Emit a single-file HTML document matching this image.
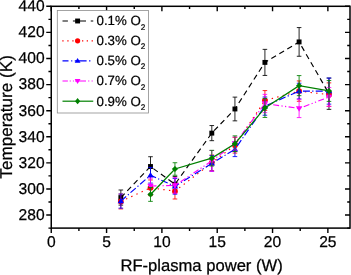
<!DOCTYPE html>
<html><head><meta charset="utf-8"><title>chart</title>
<style>html,body{margin:0;padding:0;background:#fff;}body{width:351px;height:275px;overflow:hidden;font-family:"Liberation Sans",sans-serif;}</style>
</head><body>
<svg width="351" height="275" viewBox="0 0 351 275" style="display:block;opacity:0.999;will-change:transform">
<rect width="351" height="275" fill="#fff"/>
<path d="M120.85 197.57 L150.50 166.52 L174.95 184.26 L211.80 133.12 L234.93 108.98 L264.91 62.40 L299.10 41.92 L328.98 93.72" fill="none" stroke="#000000" stroke-width="1.15" stroke-dasharray="5.5 3.8"/>
<path d="M120.85 190.00V205.14M118.55 190.00H123.15M118.55 205.14H123.15" fill="none" stroke="#000000" stroke-width="0.85"/>
<path d="M150.50 156.73V176.30M148.20 156.73H152.80M148.20 176.30H152.80" fill="none" stroke="#000000" stroke-width="0.85"/>
<path d="M174.95 176.43V192.09M172.65 176.43H177.25M172.65 192.09H177.25" fill="none" stroke="#000000" stroke-width="0.85"/>
<path d="M211.80 125.55V140.68M209.50 125.55H214.10M209.50 140.68H214.10" fill="none" stroke="#000000" stroke-width="0.85"/>
<path d="M234.93 97.11V120.85M232.63 97.11H237.23M232.63 120.85H237.23" fill="none" stroke="#000000" stroke-width="0.85"/>
<path d="M264.91 49.36V75.45M262.61 49.36H267.21M262.61 75.45H267.21" fill="none" stroke="#000000" stroke-width="0.85"/>
<path d="M299.10 27.57V56.27M296.80 27.57H301.40M296.80 56.27H301.40" fill="none" stroke="#000000" stroke-width="0.85"/>
<path d="M328.98 78.06V109.37M326.68 78.06H331.28M326.68 109.37H331.28" fill="none" stroke="#000000" stroke-width="0.85"/>
<rect x="118.40" y="195.12" width="4.90" height="4.90" fill="#000000"/>
<rect x="148.05" y="164.07" width="4.90" height="4.90" fill="#000000"/>
<rect x="172.50" y="181.81" width="4.90" height="4.90" fill="#000000"/>
<rect x="209.35" y="130.67" width="4.90" height="4.90" fill="#000000"/>
<rect x="232.48" y="106.53" width="4.90" height="4.90" fill="#000000"/>
<rect x="262.46" y="59.95" width="4.90" height="4.90" fill="#000000"/>
<rect x="296.65" y="39.47" width="4.90" height="4.90" fill="#000000"/>
<rect x="326.53" y="91.27" width="4.90" height="4.90" fill="#000000"/>
<path d="M120.85 201.48 L150.50 187.78 L174.95 191.18 L211.80 162.86 L234.93 145.25 L264.91 100.50 L299.10 91.11 L328.98 94.63" fill="none" stroke="#ff0000" stroke-width="1.15" stroke-dasharray="1.4 4.3"/>
<path d="M120.85 194.05V208.92M118.55 194.05H123.15M118.55 208.92H123.15" fill="none" stroke="#ff0000" stroke-width="0.85"/>
<path d="M150.50 179.96V195.61M148.20 179.96H152.80M148.20 195.61H152.80" fill="none" stroke="#ff0000" stroke-width="0.85"/>
<path d="M174.95 183.35V199.01M172.65 183.35H177.25M172.65 199.01H177.25" fill="none" stroke="#ff0000" stroke-width="0.85"/>
<path d="M211.80 155.04V170.69M209.50 155.04H214.10M209.50 170.69H214.10" fill="none" stroke="#ff0000" stroke-width="0.85"/>
<path d="M234.93 137.42V153.08M232.63 137.42H237.23M232.63 153.08H237.23" fill="none" stroke="#ff0000" stroke-width="0.85"/>
<path d="M264.91 90.58V110.42M262.61 90.58H267.21M262.61 110.42H267.21" fill="none" stroke="#ff0000" stroke-width="0.85"/>
<path d="M299.10 80.93V101.28M296.80 80.93H301.40M296.80 101.28H301.40" fill="none" stroke="#ff0000" stroke-width="0.85"/>
<path d="M328.98 82.89V106.37M326.68 82.89H331.28M326.68 106.37H331.28" fill="none" stroke="#ff0000" stroke-width="0.85"/>
<circle cx="120.85" cy="201.48" r="2.86" fill="#ff0000"/>
<circle cx="150.50" cy="187.78" r="2.86" fill="#ff0000"/>
<circle cx="174.95" cy="191.18" r="2.86" fill="#ff0000"/>
<circle cx="211.80" cy="162.86" r="2.86" fill="#ff0000"/>
<circle cx="234.93" cy="145.25" r="2.86" fill="#ff0000"/>
<circle cx="264.91" cy="100.50" r="2.86" fill="#ff0000"/>
<circle cx="299.10" cy="91.11" r="2.86" fill="#ff0000"/>
<circle cx="328.98" cy="94.63" r="2.86" fill="#ff0000"/>
<path d="M120.85 201.09 L150.50 175.26 L174.95 186.35 L211.80 163.39 L234.93 149.30 L264.91 106.11 L299.10 91.11 L328.98 91.11" fill="none" stroke="#0000ff" stroke-width="1.15" stroke-dasharray="7 2.3 1.2 2.3"/>
<path d="M120.85 194.05V208.14M118.55 194.05H123.15M118.55 208.14H123.15" fill="none" stroke="#0000ff" stroke-width="0.85"/>
<path d="M150.50 167.43V183.09M148.20 167.43H152.80M148.20 183.09H152.80" fill="none" stroke="#0000ff" stroke-width="0.85"/>
<path d="M174.95 178.52V194.18M172.65 178.52H177.25M172.65 194.18H177.25" fill="none" stroke="#0000ff" stroke-width="0.85"/>
<path d="M211.80 155.56V171.21M209.50 155.56H214.10M209.50 171.21H214.10" fill="none" stroke="#0000ff" stroke-width="0.85"/>
<path d="M234.93 141.99V156.60M232.63 141.99H237.23M232.63 156.60H237.23" fill="none" stroke="#0000ff" stroke-width="0.85"/>
<path d="M264.91 96.98V115.24M262.61 96.98H267.21M262.61 115.24H267.21" fill="none" stroke="#0000ff" stroke-width="0.85"/>
<path d="M299.10 83.28V98.93M296.80 83.28H301.40M296.80 98.93H301.40" fill="none" stroke="#0000ff" stroke-width="0.85"/>
<path d="M328.98 78.06V104.15M326.68 78.06H331.28M326.68 104.15H331.28" fill="none" stroke="#0000ff" stroke-width="0.85"/>
<path d="M120.85 197.90 L124.04 203.29 L117.66 203.29Z" fill="#0000ff"/>
<path d="M150.50 172.07 L153.69 177.46 L147.31 177.46Z" fill="#0000ff"/>
<path d="M174.95 183.16 L178.14 188.55 L171.76 188.55Z" fill="#0000ff"/>
<path d="M211.80 160.20 L214.99 165.59 L208.61 165.59Z" fill="#0000ff"/>
<path d="M234.93 146.11 L238.12 151.50 L231.74 151.50Z" fill="#0000ff"/>
<path d="M264.91 102.92 L268.10 108.31 L261.72 108.31Z" fill="#0000ff"/>
<path d="M299.10 87.92 L302.29 93.31 L295.91 93.31Z" fill="#0000ff"/>
<path d="M328.98 87.92 L332.17 93.31 L325.79 93.31Z" fill="#0000ff"/>
<path d="M150.50 185.96 L174.95 185.44 L211.80 160.91 L234.93 143.56 L264.91 103.50 L299.10 108.46 L328.98 96.98" fill="none" stroke="#ff00ff" stroke-width="1.15" stroke-dasharray="6 2.4 1.2 2.4 1.2 2.4"/>
<path d="M150.50 178.13V193.79M148.20 178.13H152.80M148.20 193.79H152.80" fill="none" stroke="#ff00ff" stroke-width="0.85"/>
<path d="M174.95 177.61V193.26M172.65 177.61H177.25M172.65 193.26H177.25" fill="none" stroke="#ff00ff" stroke-width="0.85"/>
<path d="M211.80 150.47V171.35M209.50 150.47H214.10M209.50 171.35H214.10" fill="none" stroke="#ff00ff" stroke-width="0.85"/>
<path d="M234.93 137.03V150.08M232.63 137.03H237.23M232.63 150.08H237.23" fill="none" stroke="#ff00ff" stroke-width="0.85"/>
<path d="M264.91 94.37V112.63M262.61 94.37H267.21M262.61 112.63H267.21" fill="none" stroke="#ff00ff" stroke-width="0.85"/>
<path d="M299.10 99.33V117.59M296.80 99.33H301.40M296.80 117.59H301.40" fill="none" stroke="#ff00ff" stroke-width="0.85"/>
<path d="M328.98 87.58V106.37M326.68 87.58H331.28M326.68 106.37H331.28" fill="none" stroke="#ff00ff" stroke-width="0.85"/>
<path d="M150.50 189.15 L153.69 183.76 L147.31 183.76Z" fill="#ff00ff"/>
<path d="M174.95 188.63 L178.14 183.24 L171.76 183.24Z" fill="#ff00ff"/>
<path d="M211.80 164.10 L214.99 158.71 L208.61 158.71Z" fill="#ff00ff"/>
<path d="M234.93 146.75 L238.12 141.36 L231.74 141.36Z" fill="#ff00ff"/>
<path d="M264.91 106.69 L268.10 101.30 L261.72 101.30Z" fill="#ff00ff"/>
<path d="M299.10 111.65 L302.29 106.26 L295.91 106.26Z" fill="#ff00ff"/>
<path d="M328.98 100.17 L332.17 94.78 L325.79 94.78Z" fill="#ff00ff"/>
<path d="M150.50 194.44 L174.95 169.00 L211.80 158.17 L234.93 143.69 L264.91 107.94 L299.10 85.63 L328.98 90.98" fill="none" stroke="#008000" stroke-width="1.3"/>
<path d="M150.50 187.52V201.35M148.20 187.52H152.80M148.20 201.35H152.80" fill="none" stroke="#008000" stroke-width="0.85"/>
<path d="M174.95 162.73V175.26M172.65 162.73H177.25M172.65 175.26H177.25" fill="none" stroke="#008000" stroke-width="0.85"/>
<path d="M211.80 150.34V166.00M209.50 150.34H214.10M209.50 166.00H214.10" fill="none" stroke="#008000" stroke-width="0.85"/>
<path d="M234.93 135.86V151.51M232.63 135.86H237.23M232.63 151.51H237.23" fill="none" stroke="#008000" stroke-width="0.85"/>
<path d="M264.91 98.41V117.46M262.61 98.41H267.21M262.61 117.46H267.21" fill="none" stroke="#008000" stroke-width="0.85"/>
<path d="M299.10 75.58V95.67M296.80 75.58H301.40M296.80 95.67H301.40" fill="none" stroke="#008000" stroke-width="0.85"/>
<path d="M328.98 80.54V101.41M326.68 80.54H331.28M326.68 101.41H331.28" fill="none" stroke="#008000" stroke-width="0.85"/>
<path d="M150.50 191.34 L153.60 194.44 L150.50 197.54 L147.40 194.44Z" fill="#008000"/>
<path d="M174.95 165.90 L178.05 169.00 L174.95 172.10 L171.85 169.00Z" fill="#008000"/>
<path d="M211.80 155.07 L214.90 158.17 L211.80 161.27 L208.70 158.17Z" fill="#008000"/>
<path d="M234.93 140.59 L238.03 143.69 L234.93 146.79 L231.83 143.69Z" fill="#008000"/>
<path d="M264.91 104.84 L268.01 107.94 L264.91 111.04 L261.81 107.94Z" fill="#008000"/>
<path d="M299.10 82.53 L302.20 85.63 L299.10 88.73 L296.00 85.63Z" fill="#008000"/>
<path d="M328.98 87.88 L332.08 90.98 L328.98 94.08 L325.88 90.98Z" fill="#008000"/>
<rect x="51.25" y="6.3" width="298.75" height="221.79999999999998" fill="none" stroke="#000" stroke-width="1.5"/>
<path d="M51.25 228.1v5.0M51.25 6.3v5.0M78.91 228.1v2.8M78.91 6.3v2.8M106.57 228.1v5.0M106.57 6.3v5.0M134.24 228.1v2.8M134.24 6.3v2.8M161.90 228.1v5.0M161.90 6.3v5.0M189.56 228.1v2.8M189.56 6.3v2.8M217.22 228.1v5.0M217.22 6.3v5.0M244.88 228.1v2.8M244.88 6.3v2.8M272.55 228.1v5.0M272.55 6.3v5.0M300.21 228.1v2.8M300.21 6.3v2.8M327.87 228.1v5.0M327.87 6.3v5.0M51.25 228.10h-2.8M350.0 228.10h-2.8M51.25 215.05h-5.0M350.0 215.05h-5.0M51.25 202.01h-2.8M350.0 202.01h-2.8M51.25 188.96h-5.0M350.0 188.96h-5.0M51.25 175.91h-2.8M350.0 175.91h-2.8M51.25 162.86h-5.0M350.0 162.86h-5.0M51.25 149.82h-2.8M350.0 149.82h-2.8M51.25 136.77h-5.0M350.0 136.77h-5.0M51.25 123.72h-2.8M350.0 123.72h-2.8M51.25 110.68h-5.0M350.0 110.68h-5.0M51.25 97.63h-2.8M350.0 97.63h-2.8M51.25 84.58h-5.0M350.0 84.58h-5.0M51.25 71.54h-2.8M350.0 71.54h-2.8M51.25 58.49h-5.0M350.0 58.49h-5.0M51.25 45.44h-2.8M350.0 45.44h-2.8M51.25 32.39h-5.0M350.0 32.39h-5.0M51.25 19.35h-2.8M350.0 19.35h-2.8M51.25 6.30h-5.0M350.0 6.30h-5.0" stroke="#000" stroke-width="1.4" fill="none"/>
<g font-family="Liberation Sans, sans-serif" font-size="15.6" fill="#000" stroke="#000" stroke-width="0.25" text-rendering="geometricPrecision">
<text x="51.25" y="247.4" text-anchor="middle">0</text>
<text x="106.57" y="247.4" text-anchor="middle">5</text>
<text x="161.90" y="247.4" text-anchor="middle">10</text>
<text x="217.22" y="247.4" text-anchor="middle">15</text>
<text x="272.55" y="247.4" text-anchor="middle">20</text>
<text x="327.87" y="247.4" text-anchor="middle">25</text>
<text x="44.6" y="219.95" text-anchor="end">280</text>
<text x="44.6" y="193.86" text-anchor="end">300</text>
<text x="44.6" y="167.76" text-anchor="end">320</text>
<text x="44.6" y="141.67" text-anchor="end">340</text>
<text x="44.6" y="115.58" text-anchor="end">360</text>
<text x="44.6" y="89.48" text-anchor="end">380</text>
<text x="44.6" y="63.39" text-anchor="end">400</text>
<text x="44.6" y="37.29" text-anchor="end">420</text>
<text x="44.6" y="11.20" text-anchor="end">440</text>
</g>
<text x="201.6" y="271.4" text-anchor="middle" stroke="#000" stroke-width="0.25" text-rendering="geometricPrecision" font-family="Liberation Sans, sans-serif" font-size="16.6">RF-plasma power (W)</text>
<text transform="translate(11.9 116.9) rotate(-90)" text-anchor="middle" stroke="#000" stroke-width="0.25" text-rendering="geometricPrecision" font-family="Liberation Sans, sans-serif" font-size="17.1">Temperature (K)</text>
<rect x="57.3" y="10.4" width="91.2" height="102.6" fill="#fff" stroke="#8c8c8c" stroke-width="0.8"/>
<path d="M62.5 21.0H67.9M72.9 21.0H86.0M90.75 21.0H93.25" stroke="#000000" stroke-width="1.2" fill="none"/>
<rect x="75.15" y="18.55" width="4.90" height="4.90" fill="#000000"/>
<text x="96.5" y="25.35" font-family="Liberation Sans, sans-serif" font-size="13.3" fill="#000" stroke="#000" stroke-width="0.2" text-rendering="geometricPrecision">0.1% O<tspan font-size="8.2" dy="4.2">2</tspan></text>
<path d="M62.3 40.8H63.6M67.3 40.8H68.6M72.3 40.8H73.6M82.0 40.8H83.3M86.7 40.8H88.0M91.6 40.8H92.9" stroke="#ff0000" stroke-width="1.2" fill="none"/>
<circle cx="77.60" cy="40.80" r="2.60" fill="#ff0000"/>
<text x="96.5" y="45.15" font-family="Liberation Sans, sans-serif" font-size="13.3" fill="#000" stroke="#000" stroke-width="0.2" text-rendering="geometricPrecision">0.3% O<tspan font-size="8.2" dy="4.2">2</tspan></text>
<path d="M62.5 60.8H68.5M71.2 60.8H72.3M74.75 60.8H86.6M89.1 60.8H90.4" stroke="#0000ff" stroke-width="1.2" fill="none"/>
<path d="M77.60 57.90 L80.50 62.80 L74.70 62.80Z" fill="#0000ff"/>
<text x="96.5" y="65.14999999999999" font-family="Liberation Sans, sans-serif" font-size="13.3" fill="#000" stroke="#000" stroke-width="0.2" text-rendering="geometricPrecision">0.5% O<tspan font-size="8.2" dy="4.2">2</tspan></text>
<path d="M62.5 81.0H67.9M69.7 81.0H70.8M72.9 81.0H73.9M75 81.0H86.0M88.2 81.0H89.3M91.6 81.0H92.7" stroke="#ff00ff" stroke-width="1.2" fill="none"/>
<path d="M77.60 83.90 L80.50 79.00 L74.70 79.00Z" fill="#ff00ff"/>
<text x="96.5" y="85.35" font-family="Liberation Sans, sans-serif" font-size="13.3" fill="#000" stroke="#000" stroke-width="0.2" text-rendering="geometricPrecision">0.7% O<tspan font-size="8.2" dy="4.2">2</tspan></text>
<path d="M62.5 101.2H93.25" stroke="#008000" stroke-width="1.2" fill="none"/>
<path d="M77.60 98.10 L80.20 101.20 L77.60 104.30 L75.00 101.20Z" fill="#008000"/>
<text x="96.5" y="105.55" font-family="Liberation Sans, sans-serif" font-size="13.3" fill="#000" stroke="#000" stroke-width="0.2" text-rendering="geometricPrecision">0.9% O<tspan font-size="8.2" dy="4.2">2</tspan></text>
</svg>
</body></html>
